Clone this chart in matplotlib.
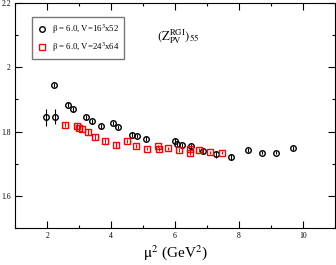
import matplotlib
matplotlib.use('Agg')
import matplotlib.pyplot as plt
from matplotlib.lines import Line2D
from matplotlib.ticker import MultipleLocator

# beta = 6.0, V = 16^3 x 52
mu2_16 = [1.98, 2.23, 2.26, 2.645, 2.81, 3.23, 3.40, 3.675, 4.06, 4.23, 4.64, 4.81,
          5.08, 6.00, 6.06, 6.22, 6.505, 6.86, 7.29, 7.76, 8.28, 8.71, 9.17, 9.69]
z_16 = [1.844, 1.945, 1.847, 1.884, 1.869, 1.844, 1.832, 1.816, 1.827, 1.815, 1.791, 1.787,
        1.778, 1.772, 1.763, 1.757, 1.754, 1.741, 1.729, 1.722, 1.742, 1.735, 1.735, 1.748]
err_16 = [0.025, 0.006, 0.022, 0.008, 0.007, 0.008, 0.008, 0.009, 0.006, 0.006, 0.008, 0.007,
          0.007, 0.008, 0.008, 0.008, 0.007, 0.009, 0.010, 0.010, 0.006, 0.005, 0.005, 0.006]

# beta = 6.0, V = 24^3 x 64
mu2_24 = [2.55, 2.94, 2.99, 3.09, 3.27, 3.51, 3.82, 4.15, 4.49, 4.79, 5.12, 5.48, 5.51,
          5.78, 6.11, 6.46, 6.48, 6.755, 7.09, 7.46]
z_24 = [1.822, 1.816, 1.811, 1.808, 1.798, 1.784, 1.771, 1.759, 1.771, 1.755, 1.747, 1.755,
        1.746, 1.748, 1.742, 1.745, 1.735, 1.742, 1.736, 1.734]
err_24 = [0.008, 0.010, 0.010, 0.009, 0.010, 0.010, 0.010, 0.010, 0.005, 0.006, 0.005, 0.005,
          0.006, 0.005, 0.006, 0.006, 0.007, 0.006, 0.005, 0.005]

labels = [r'$\mathrm{\beta}$ = 6.0, V=16$^3$x52', r'$\mathrm{\beta}$ = 6.0, V=24$^3$x64']

plt.rcParams['font.family'] = ['Liberation Serif', 'DejaVu Serif']
plt.rcParams['mathtext.fontset'] = 'stix'

fig = plt.figure(figsize=(3.36, 2.65), dpi=100)
ax = fig.add_axes([0.045, 0.139, 0.952, 0.85])

ax.errorbar(mu2_16, z_16, yerr=err_16, fmt='o', ms=4, mfc='none', mec='black', mew=1.0,
            ecolor='black', elinewidth=0.8, capsize=0)
ax.errorbar(mu2_24, z_24, yerr=err_24, fmt='s', ms=4, mfc='none', mec='red', mew=1.0,
            ecolor='red', elinewidth=0.8, capsize=0)

ax.set_xlim(1, 11)
ax.set_ylim(1.5, 2.2)
ax.xaxis.set_major_locator(MultipleLocator(2))
ax.xaxis.set_minor_locator(MultipleLocator(1))
ax.yaxis.set_minor_locator(MultipleLocator(0.1))
ax.set_yticks([1.6, 1.8, 2.0, 2.2])
ax.set_yticklabels(['1.6', '1.8', '2', '2.2'])
ax.tick_params(which='both', direction='in', top=True, right=True, labelsize=5.5, pad=3)
ax.tick_params(which='major', length=5, width=0.8)
ax.tick_params(which='minor', length=2.5, width=0.8)
for s in ax.spines.values():
    s.set_linewidth(0.8)

ax.set_xlabel(r'$\mathrm{\mu}^2$ (GeV$^2$)', fontsize=11, labelpad=2)

ax.text(5.45, 2.085, r'$(\mathrm{Z}_{\mathrm{PV}}^{\mathrm{RGI}})_{55}$', fontsize=9)

handles = [Line2D([], [], ls='none', marker='o', ms=4, mfc='none', mec='black', mew=1.0),
           Line2D([], [], ls='none', marker='s', ms=4, mfc='none', mec='red', mew=1.0)]
leg = ax.legend(handles, labels, loc='upper left', bbox_to_anchor=(0.04, 0.955), fontsize=6.3,
                frameon=True, fancybox=False, edgecolor='#555555', handletextpad=0.5,
                borderpad=0.55, labelspacing=0.6, handlelength=1.2)
leg.get_frame().set_linewidth(1.0)

fig.savefig('out.png', dpi=100)
